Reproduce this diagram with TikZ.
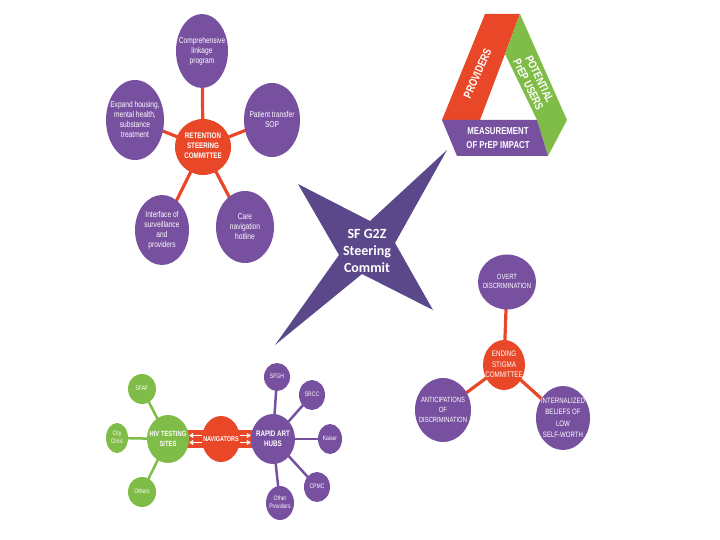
\documentclass[tikz,border=0pt]{standalone}
\usepackage{fontspec}
\setmainfont{Liberation Sans}
\newfontfamily\cond[FakeStretch=0.78]{Liberation Sans}
\newfontfamily\cali{Carlito}
\usetikzlibrary{shapes.geometric,arrows.meta}
\definecolor{pp}{RGB}{120,80,160}
\definecolor{rd}{RGB}{232,72,40}
\definecolor{gr}{RGB}{128,189,72}
\definecolor{st}{RGB}{90,72,138}
\pgfdeclarelayer{bg}
\pgfsetlayers{bg,main}
\newcommand\tx[1]{\makebox[0pt]{\smash{\raisebox{-0.25em}{\begin{tabular}{@{}c@{}}#1\end{tabular}}}}}
\tikzset{
  bub/.style={ellipse, text=white, inner sep=0pt},
  pel/.style={bub, fill=pp},
  rel/.style={bub, fill=rd},
  gel/.style={bub, fill=gr},
  fa/.style={font=\cond\fontsize{8.5}{10}\selectfont},
  fab/.style={font=\cond\bfseries\fontsize{8}{10}\selectfont},
  fc/.style={font=\cond\fontsize{7.5}{9}\selectfont},
  fd/.style={font=\cond\fontsize{7.8}{11.5}\selectfont},
  fs/.style={font=\cond\fontsize{6.5}{8}\selectfont},
  fbl/.style={font=\cond\bfseries\fontsize{7.5}{10}\selectfont},
  conn/.style={line width=3.2pt, line cap=round},
  wa/.style={white, line width=1.2pt, -{Triangle[length=4pt,width=5pt]}},
  tri/.style={text=white, align=center, inner sep=0pt, font=\cond\bfseries\fontsize{11.5}{12.5}\selectfont}
}
\begin{document}
\begin{tikzpicture}[x=1pt,y=-1pt]
\useasboundingbox (0,0) rectangle (720,540);
% ---------------- top-left cluster
\node[rel, fab, minimum width=56, minimum height=56] (ret) at (203,147) {\tx{RETENTION\\STEERING\\COMMITTEE}};
\node[pel, fa, minimum width=52, minimum height=74] (clp) at (202,51) {\tx{Comprehensive\\linkage\\program}};
\node[pel, fa, minimum width=58, minimum height=80] (exh) at (135,120) {\tx{Expand housing,\\mental health,\\substance\\treatment}};
\node[pel, fa, minimum width=56, minimum height=74] (pts) at (272,120) {\tx{Patient transfer\\SOP}};
\node[pel, fa, minimum width=54, minimum height=70] (ins) at (162,230) {\tx{Interface of\\surveillance\\and\\providers}};
\node[pel, fa, minimum width=58, minimum height=72] (cnh) at (245,227) {\tx{Care\\navigation\\hotline}};
\begin{pgfonlayer}{bg}
\foreach \t in {clp,exh,pts,ins,cnh} \draw[rd, conn] (ret.center) -- (\t.center);
\end{pgfonlayer}
% ---------------- triangle
\fill[rd] (485,14) -- (520,14) -- (505,54) -- (480,120) -- (442,120) -- cycle;
\fill[gr] (520,14) -- (567,120) -- (548,156) -- (537,120) -- (505,54) -- cycle;
\fill[pp] (442,120) -- (537,120) -- (548,156) -- (457,156) -- cycle;
\node[tri, rotate=66] (prov) at (477.5,73.5) {PROVIDERS};
\node[tri, rotate=-64] (pot) at (534,82) {POTENTIAL\\PrEP USERS};
\node[tri, font=\cond\bfseries\fontsize{10}{14}\selectfont] (meas) at (498,138) {MEASUREMENT\\OF PrEP IMPACT};
% ---------------- star
\fill[st] (298,184) -- (370,221) -- (447,150) -- (395,243) -- (433,310) -- (362,274) -- (275,345) -- (339,255) -- cycle;
\node[text=white, align=center, font=\cali\bfseries\fontsize{14}{16.7}\selectfont] (sfg) at (367,251) {SF G2Z\\Steering\\Commit};
% ---------------- bottom-right cluster
\node[rel, font=\cond\fontsize{8}{10.5}\selectfont, minimum width=42, minimum height=50] (end) at (504,365) {\tx{ENDING\\STIGMA\\COMMITTEE}};
\node[pel, fc, minimum width=58, minimum height=55] (ovd) at (507,282) {\tx{OVERT\\DISCRIMINATION}};
\node[pel, font=\cond\fontsize{7.5}{10}\selectfont, minimum width=56, minimum height=64] (ant) at (443,410) {\tx{ANTICIPATIONS\\OF\\DISCRIMINATION}};
\node[pel, fd, minimum width=54, minimum height=64] (inb) at (563,418) {\tx{INTERNALIZED\\BELIEFS OF\\LOW\\SELF-WORTH}};
\begin{pgfonlayer}{bg}
\foreach \t in {ovd,ant,inb} \draw[rd, conn] (end.center) -- (\t.center);
\end{pgfonlayer}
% ---------------- bottom-left cluster
\node[gel, fbl, minimum width=42, minimum height=48] (hiv) at (168,439) {\tx{HIV TESTING\\SITES}};
\node[rel, font=\cond\bfseries\fontsize{7}{10}\selectfont, minimum width=38, minimum height=46] (nav) at (221,439) {\tx{NAVIGATORS}};
\node[pel, font=\cond\bfseries\fontsize{8}{10}\selectfont, minimum width=44, minimum height=50] (rah) at (273,439) {\tx{RAPID ART\\HUBS}};
\node[gel, fs, minimum width=28, minimum height=30] (sfaf) at (142,389) {\tx{SFAF}};
\node[gel, fs, minimum width=22, minimum height=30] (city) at (117,438) {\tx{City\\Clinic}};
\node[gel, fs, minimum width=28, minimum height=30] (oth) at (142,492) {\tx{Others}};
\node[pel, fs, minimum width=26, minimum height=28] (sfgh) at (277,377) {\tx{SFGH}};
\node[pel, fs, minimum width=26, minimum height=30] (srcc) at (312,395) {\tx{SRCC}};
\node[pel, fs, minimum width=24, minimum height=30] (kai) at (330,439) {\tx{Kaiser}};
\node[pel, fs, minimum width=26, minimum height=30] (cpmc) at (317,487) {\tx{CPMC}};
\node[pel, fs, minimum width=28, minimum height=34] (othp) at (280,503) {\tx{Other\\Providers}};
\begin{pgfonlayer}{bg}
\foreach \t in {sfaf,city,oth} \draw[gr, conn, line width=2.5pt] (hiv.center) -- (\t.center);
\foreach \t in {sfgh,srcc,kai,cpmc,othp} \draw[pp, conn, line width=2.5pt] (rah.center) -- (\t.center);
\fill[rd] ([yshift=-9]hiv.center) rectangle ([yshift=9]nav.center);
\fill[rd] ([yshift=-9]nav.center) rectangle ([yshift=9]rah.center);
\end{pgfonlayer}
\draw[wa] ([yshift=-3.5]nav.west) -- ([yshift=-3.5]hiv.east);
\draw[wa] ([yshift=3.5]nav.west) -- ([yshift=3.5]hiv.east);
\draw[wa] ([yshift=-3.5]nav.east) -- ([yshift=-3.5]rah.west);
\draw[wa] ([yshift=3.5]nav.east) -- ([yshift=3.5]rah.west);
\end{tikzpicture}
\end{document}
